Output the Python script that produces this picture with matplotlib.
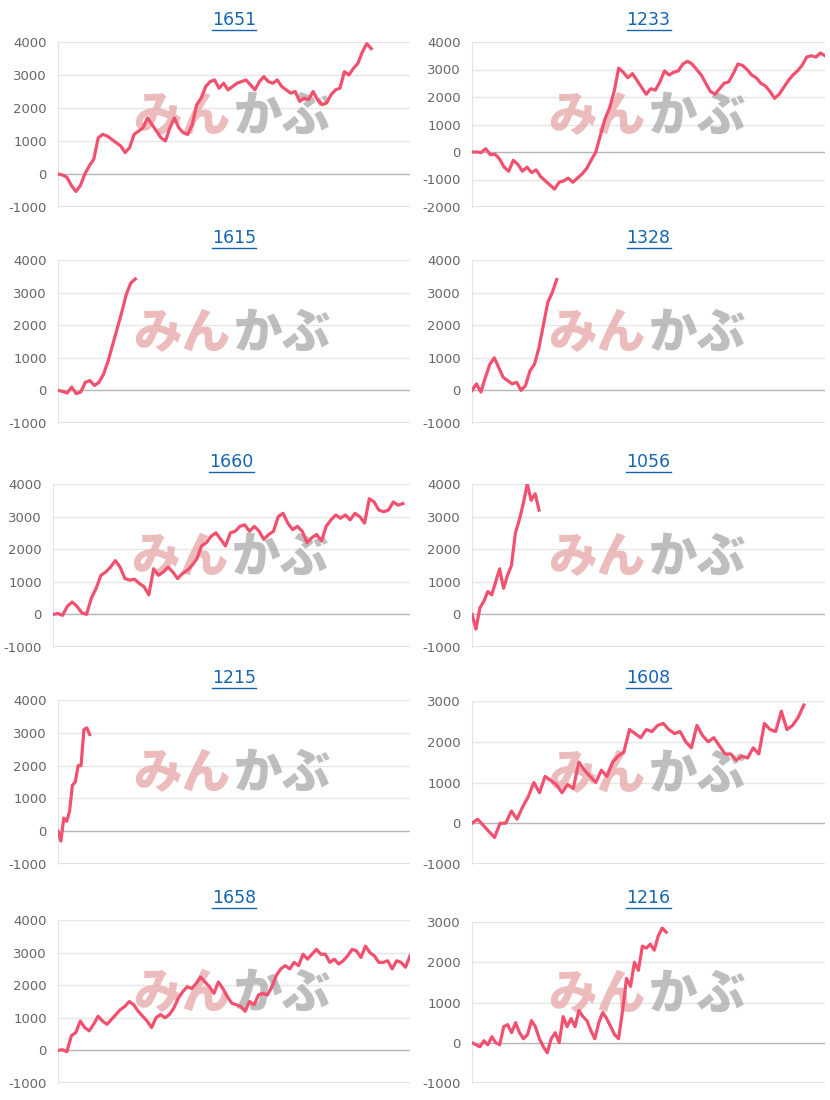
import numpy as np
import matplotlib
matplotlib.use("Agg")
import matplotlib.pyplot as plt
from matplotlib.lines import Line2D

titles = ["1651", "1233", "1615", "1328", "1660", "1056", "1215", "1608", "1658", "1216"]
spans = [89, 100, 22, 24, 98, 19, 9, 94, 100, 55]
yranges = [(-1000, 4000), (-2000, 4000), (-1000, 4000), (-1000, 4000), (-1000, 4000),
           (-1000, 4000), (-1000, 4000), (-1000, 3000), (-1000, 4000), (-1000, 3000)]

s1651 = [0, -30, -100, -350, -530, -350, 0, 250, 450, 1100, 1200, 1150, 1050, 950, 850, 650, 800, 1200, 1300, 1400,
         1700, 1500, 1300, 1100, 1000, 1400, 1700, 1400, 1250, 1200, 1500, 2100, 2300, 2650, 2800, 2850, 2600, 2750,
         2550, 2650, 2750, 2800, 2850, 2700, 2550, 2800, 2950, 2800, 2750, 2850, 2650, 2550, 2450, 2500, 2200, 2300,
         2250, 2500, 2250, 2100, 2150, 2400, 2550, 2600, 3100, 3000, 3200, 3350, 3700, 3950, 3800]
s1233 = [0, 0, -20, 120, -100, -80, -250, -550, -700, -300, -450, -700, -550, -750, -650, -900, -1050, -1200, -1350,
         -1100, -1050, -950, -1100, -950, -800, -600, -300, 0, 600, 1200, 1600, 2200, 3050, 2900, 2700, 2850, 2600,
         2350, 2100, 2300, 2250, 2550, 2950, 2800, 2900, 2950, 3200, 3300, 3200, 3000, 2800, 2500, 2200, 2100, 2300,
         2500, 2550, 2850, 3200, 3150, 3000, 2800, 2700, 2500, 2400, 2200, 1950, 2100, 2350, 2600, 2800, 2950, 3150,
         3450, 3500, 3450, 3600, 3500]
s1615 = [0, -30, -80, 100, -100, -50, 250, 300, 150, 250, 500, 900, 1400, 1900, 2400, 2950, 3300, 3420]
s1328 = [0, 200, -50, 400, 800, 1000, 700, 400, 300, 200, 250, 0, 150, 600, 800, 1300, 2000, 2700, 3000, 3400]
s1660 = [0, 30, -30, 250, 380, 250, 50, 0, 500, 800, 1200, 1300, 1450, 1650, 1450, 1100, 1050, 1080, 950, 850, 600,
         1400, 1200, 1300, 1450, 1300, 1100, 1250, 1350, 1500, 1700, 2100, 2200, 2400, 2500, 2300, 2100, 2500, 2550,
         2700, 2750, 2550, 2700, 2550, 2300, 2450, 2550, 3000, 3100, 2800, 2600, 2700, 2550, 2200, 2350, 2450, 2250,
         2700, 2900, 3050, 2950, 3050, 2900, 3100, 3000, 2800, 3550, 3450, 3200, 3150, 3200, 3450, 3350, 3400]
s1056 = [0, -450, 200, 400, 700, 600, 1000, 1400, 800, 1200, 1500, 2500, 2900, 3400, 4000, 3500, 3700, 3200]
s1215 = [0, -300, 400, 300, 600, 1400, 1500, 2000, 2000, 3100, 3150, 2950]
s1608 = [0, 100, -50, -200, -350, 0, 0, 300, 100, 400, 650, 1000, 750, 1150, 1050, 950, 750, 950, 850, 1500, 1300,
         1150, 1000, 1300, 1150, 1500, 1650, 1750, 2300, 2200, 2100, 2300, 2250, 2400, 2450, 2300, 2200, 2250, 2000,
         1850, 2400, 2150, 2000, 2100, 1900, 1700, 1700, 1550, 1650, 1600, 1850, 1700, 2450, 2300, 2250, 2750, 2300,
         2400, 2600, 2900]
s1658 = [0, 20, -40, 450, 550, 900, 700, 600, 800, 1050, 900, 800, 950, 1100, 1250, 1350, 1500, 1400, 1200, 1050,
         900, 700, 1000, 1100, 1000, 1100, 1300, 1600, 1800, 1950, 1900, 2050, 2250, 2100, 1950, 1750, 2100, 1900,
         1650, 1450, 1400, 1350, 1200, 1500, 1400, 1700, 1750, 1700, 1950, 2300, 2500, 2600, 2500, 2700, 2600, 2950,
         2800, 2950, 3100, 2950, 2950, 2700, 2800, 2650, 2750, 2900, 3100, 3050, 2850, 3200, 3000, 2900, 2700, 2700,
         2750, 2500, 2750, 2700, 2550, 2900]
s1216 = [0, -50, -100, 50, -50, 150, 0, -50, 400, 450, 250, 500, 250, 100, 200, 550, 400, 100, -100, -250, 100, 250,
         0, 650, 400, 600, 400, 800, 650, 550, 300, 100, 500, 750, 600, 400, 200, 100, 800, 1600, 1400, 2000, 1800,
         2400, 2350, 2450, 2300, 2650, 2850, 2750]
series = [s1651, s1233, s1615, s1328, s1660, s1056, s1215, s1608, s1658, s1216]

W, H = 830, 1100
fig = plt.figure(figsize=(8.3, 11), dpi=100)
rows = [(42, 207), (260, 423), (484, 647), (700, 864), (920, 1083)]
rows_r = [(42, 207), (260, 423), (484, 647), (701, 864), (922, 1083)]
cols = [(58, 410), (472, 825)]
title_y = [20, 238, 462, 678, 898]
LINE = "#f2506f"
BLUE = "#1565b0"

for i, (t, sp, yr, s) in enumerate(zip(titles, spans, yranges, series)):
    r, c = divmod(i, 2)
    x0, x1 = cols[c]
    if r == 2 and c == 0:
        x0 = 53
    top, bot = (rows if c == 0 else rows_r)[r]
    ax = fig.add_axes([x0 / W, 1 - bot / H, (x1 - x0) / W, (bot - top) / H])
    ax.set_xlim(0, 100)
    ax.set_ylim(*yr)
    ticks = np.arange(yr[0], yr[1] + 1, 1000)
    ax.set_yticks(ticks)
    ax.set_yticklabels([str(v) for v in ticks])
    ax.set_xticks([])
    ax.tick_params(axis="y", length=0, pad=8, labelsize=9.5, labelcolor="#666666")
    for k in ["top", "right", "bottom"]:
        ax.spines[k].set_visible(False)
    ax.spines["left"].set_color("#e4e4e4")
    for v in ticks:
        ax.axhline(v, color="#b5b5b5" if v == 0 else "#e6e6e6", lw=1.0, zorder=1)
    ax.axhline(yr[0], color="#dcdcdc", lw=1.2, zorder=1)
    ax.text(0.49, 0.55, "みん", transform=ax.transAxes, ha="right", va="center", fontsize=35,
            fontweight="heavy", color="#e6a6a6", alpha=0.75, family=["Noto Sans CJK JP"], zorder=2)
    ax.text(0.50, 0.55, "かぶ", transform=ax.transAxes, ha="left", va="center", fontsize=35,
            fontweight="heavy", color="#a8a8a8", alpha=0.75, family=["Noto Sans CJK JP"], zorder=2)
    x = np.linspace(0, sp, len(s))
    ax.plot(x, s, color=LINE, lw=2.3, zorder=3, solid_joinstyle="round")
    cx = (x0 + x1) / 2 / W
    ty = 1 - title_y[r] / H
    fig.text(cx, ty, t, ha="center", va="center", fontsize=12.5, color=BLUE)

fig.canvas.draw()
rend = fig.canvas.get_renderer()
for txt in list(fig.texts):
    bb = txt.get_window_extent(rend)
    yy = (bb.y0 - 1) / H
    fig.add_artist(Line2D([bb.x0 / W, bb.x1 / W], [yy, yy], color=BLUE, lw=1.0, transform=fig.transFigure))

fig.savefig("out.png", dpi=100, facecolor="white")
